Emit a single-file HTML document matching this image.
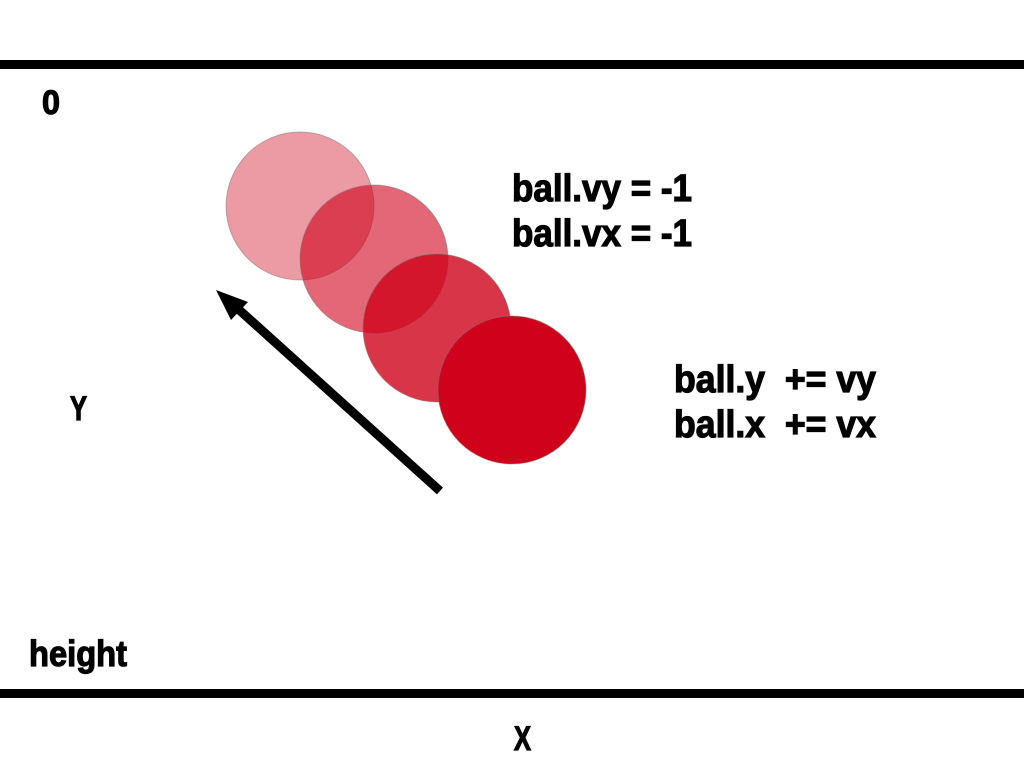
<!DOCTYPE html>
<html><head><meta charset="utf-8"><style>
html,body{margin:0;padding:0;background:#fff;width:1024px;height:768px;overflow:hidden}
text{font-family:"Liberation Sans Narrow","Liberation Sans",sans-serif;font-weight:bold;fill:#000;stroke:#000;stroke-width:1.2}
</style></head><body>
<svg id="scene" width="1024" height="768" viewBox="0 0 1024 768" xmlns="http://www.w3.org/2000/svg">
<rect x="0" y="60" width="1024" height="9" fill="#000"/>
<rect x="0" y="689" width="1024" height="9" fill="#000"/>
<g id="balls"></g>
<line x1="440" y1="491" x2="236" y2="307" stroke="#000" stroke-width="9"/>
<polygon points="216,290 248,302 231,320" fill="#000"/>
<text x="42" y="114" font-size="34" textLength="18" lengthAdjust="spacingAndGlyphs">0</text>
<text x="70" y="420" font-size="34" textLength="17" lengthAdjust="spacingAndGlyphs">Y</text>
<text x="29" y="666" font-size="36" textLength="98" lengthAdjust="spacingAndGlyphs">height</text>
<text x="514" y="750" font-size="34" textLength="17" lengthAdjust="spacingAndGlyphs">X</text>
<text x="512" y="201" font-size="38" textLength="180" lengthAdjust="spacingAndGlyphs">ball.vy = -1</text>
<text x="512" y="246" font-size="38" textLength="180" lengthAdjust="spacingAndGlyphs">ball.vx = -1</text>
<text x="674" y="392" font-size="38" textLength="202" lengthAdjust="spacingAndGlyphs" xml:space="preserve">ball.y  += vy</text>
<text x="674" y="437" font-size="38" textLength="202" lengthAdjust="spacingAndGlyphs" xml:space="preserve">ball.x  += vx</text>
</svg>
<script>
const ballX = [300, 374, 437, 512];
const ballY = [206, 259, 328, 390];
const ballOpacity = [0.4, 0.6, 0.8, 1.0];
const ballR = 74;
const g = document.getElementById('balls');
for (let i = 0; i < ballX.length; i++) {
  const c = document.createElementNS('http://www.w3.org/2000/svg', 'circle');
  c.setAttribute('cx', ballX[i]);
  c.setAttribute('cy', ballY[i]);
  c.setAttribute('r', ballR);
  c.setAttribute('fill', 'rgba(208,2,27,' + ballOpacity[i] + ')');
  c.setAttribute('stroke', 'rgba(120,120,120,0.5)');
  c.setAttribute('stroke-width', '1');
  
  
  g.appendChild(c);
}
</script>
</body></html>
